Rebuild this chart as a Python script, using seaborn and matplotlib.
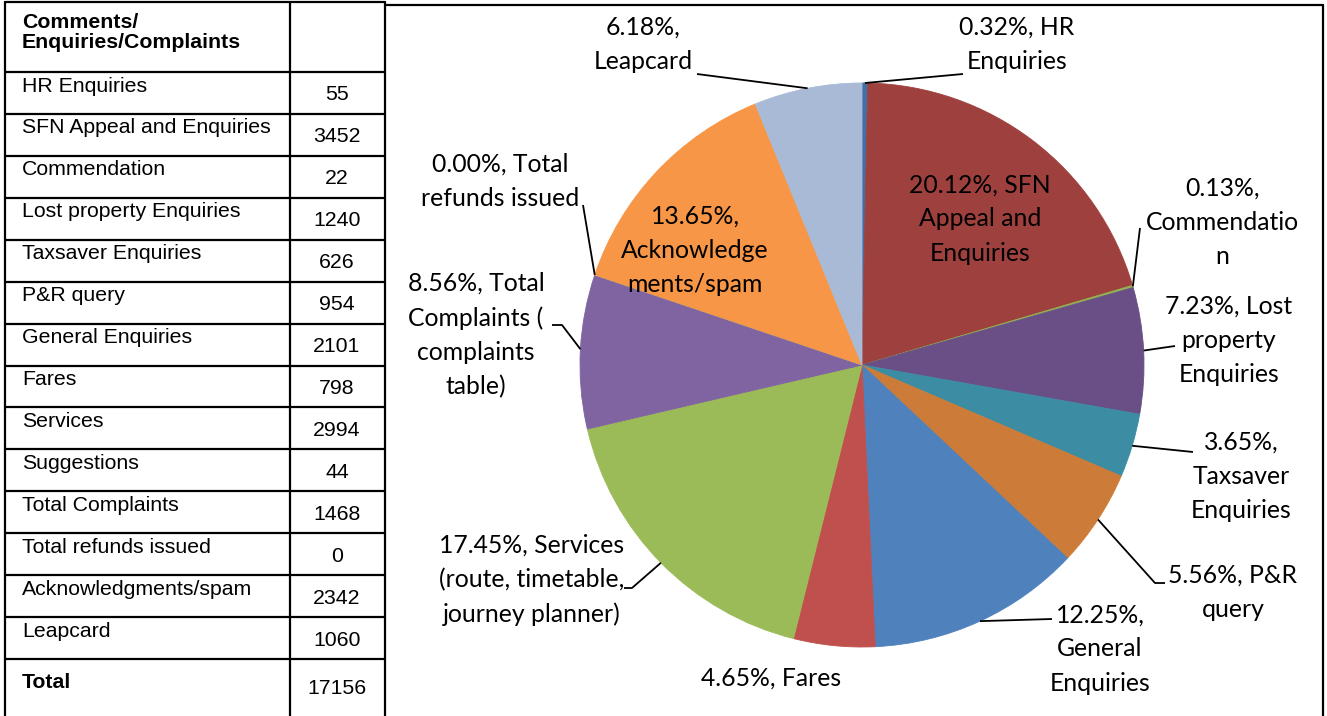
import numpy as np
import matplotlib
matplotlib.use("Agg")
import matplotlib.pyplot as plt
import seaborn as sns

# table rows (in table order)
table_names = ["HR Enquiries", "SFN Appeal and Enquiries", "Commendation",
               "Lost property Enquiries", "Taxsaver Enquiries", "P&R query",
               "General Enquiries", "Fares", "Services", "Suggestions",
               "Total Complaints", "Total refunds issued", "Acknowledgments/spam",
               "Leapcard"]
counts = [55, 3452, 22, 1240, 626, 954, 2101, 798, 2994, 44, 1468, 0, 2342, 1060]

# names used by the pie data labels (with the manual line breaks of the original)
pie_names = ["HR\nEnquiries", "SFN\nAppeal and\nEnquiries", "\nCommendatio\nn",
             "Lost\nproperty\nEnquiries", "\nTaxsaver\nEnquiries", "P&R\nquery",
             "\nGeneral\nEnquiries", "Fares",
             "Services\n(route, timetable,\njourney planner)", None,
             "Total\nComplaints (\ncomplaints\ntable)", "Total\nrefunds issued",
             "\nAcknowledge\nments/spam", "\nLeapcard"]

slice_colors = ["#4170A8", "#9E413E", "#93B150", "#6A4F87", "#3C8DA3", "#CD7B38",
                "#4F81BD", "#C0504D", "#9BBB59", "#8064A2", "#8064A2", "#4BACC6",
                "#F79646", "#A9BAD7"]

W, H = 1327, 716
CX, CY, R = 862, 365, 282

# label layout: text centre (px, top-down) and elbow points of the leader line
label_pos = {
    0: ((1017, 44), [(963, 74)]),
    1: ((980, 219), None),
    2: ((1222, 222), [(1140, 228)]),
    3: ((1229, 340), [(1175, 346)]),
    4: ((1241, 476), [(1193, 452)]),
    5: ((1233, 592), [(1155, 583), (1165, 583)]),
    6: ((1100, 649), [(1052, 619)]),
    7: ((771, 678), None),
    8: ((532, 580), [(632, 588), (624, 588)]),
    10: ((476, 335), [(562, 325), (552, 325)]),
    11: ((500, 181), [(583, 205)]),
    12: ((695, 250), None),
    13: ((643, 44), [(697, 74)]),
}

sns.set_theme(style="white")
plt.rcParams["font.family"] = ["Liberation Sans", "DejaVu Sans"]

fig = plt.figure(figsize=(W / 100, H / 100), dpi=100)
ax = fig.add_axes([0, 0, 1, 1])


def Y(y):
    return H - y


total = sum(counts)
wedges, _ = ax.pie(counts, colors=sns.color_palette(slice_colors), startangle=90,
                   counterclock=False, center=(CX, Y(CY)), radius=R,
                   wedgeprops=dict(linewidth=0.6))
for w in wedges:
    w.set_edgecolor(w.get_facecolor())
ax.set_xlim(0, W)
ax.set_ylim(0, H)
ax.set_aspect("auto")
ax.axis("off")

label_font = dict(family=["Lato", "DejaVu Sans"], fontsize=17.8, color="black",
                  ha="center", va="center", multialignment="center", linespacing=1.58)

for i, (w, name) in enumerate(zip(wedges, pie_names)):
    if name is None:
        continue
    pct = counts[i] / total * 100
    if name.startswith("\n"):
        txt = f"{pct:.2f}%,{name}"
    else:
        first, _, rest = name.partition("\n")
        txt = f"{pct:.2f}%, {first}" + (("\n" + rest) if rest else "")
    (tx, ty), elbows = label_pos[i]
    ax.text(tx, Y(ty), txt, **label_font)
    if elbows:
        th = np.radians((w.theta1 + w.theta2) / 2)
        ax_pt = (CX + R * np.cos(th), Y(CY) + R * np.sin(th))
        xs = [ax_pt[0]] + [e[0] for e in elbows]
        ys = [ax_pt[1]] + [Y(e[1]) for e in elbows]
        ax.plot(xs, ys, color="black", lw=1.3, solid_capstyle="butt")

# table on the left
x_left, x_mid, x_right = 5, 290, 385
row_h = (659 - 72) / len(table_names)
line_kw = dict(color="black", lw=1.6, clip_on=False)
ax.plot([x_left, x_right], [Y(2), Y(2)], **line_kw)
ax.plot([x_left, x_left], [Y(2), 0], **line_kw)
ax.plot([x_mid, x_mid], [Y(2), 0], **line_kw)
ax.plot([x_right, x_right], [Y(2), 0], **line_kw)
for k in range(len(table_names) + 1):
    yy = 72 + k * row_h
    ax.plot([x_left, x_right], [Y(yy), Y(yy)], **line_kw)

tfont = dict(fontsize=15.3, color="black")
ax.text(22, Y(13), "Comments/\nEnquiries/Complaints", fontweight="bold",
        va="top", ha="left", linespacing=1.1, **tfont)
for k, (nm, c) in enumerate(zip(table_names, counts)):
    top = 72 + k * row_h
    ax.text(22, Y(top + 14), nm, va="center", ha="left", **tfont)
    ax.text(337, Y(top + 23), str(c), va="center", ha="center", **tfont)
ax.text(22, Y(683), "Total", fontweight="bold", va="center", ha="left", **tfont)
ax.text(337, Y(689), str(total), va="center", ha="center", **tfont)

# chart frame
ax.plot([x_right, 1323], [Y(5), Y(5)], **line_kw)
ax.plot([1323, 1323], [Y(5), 0], **line_kw)

fig.savefig("out.png", dpi=100)
